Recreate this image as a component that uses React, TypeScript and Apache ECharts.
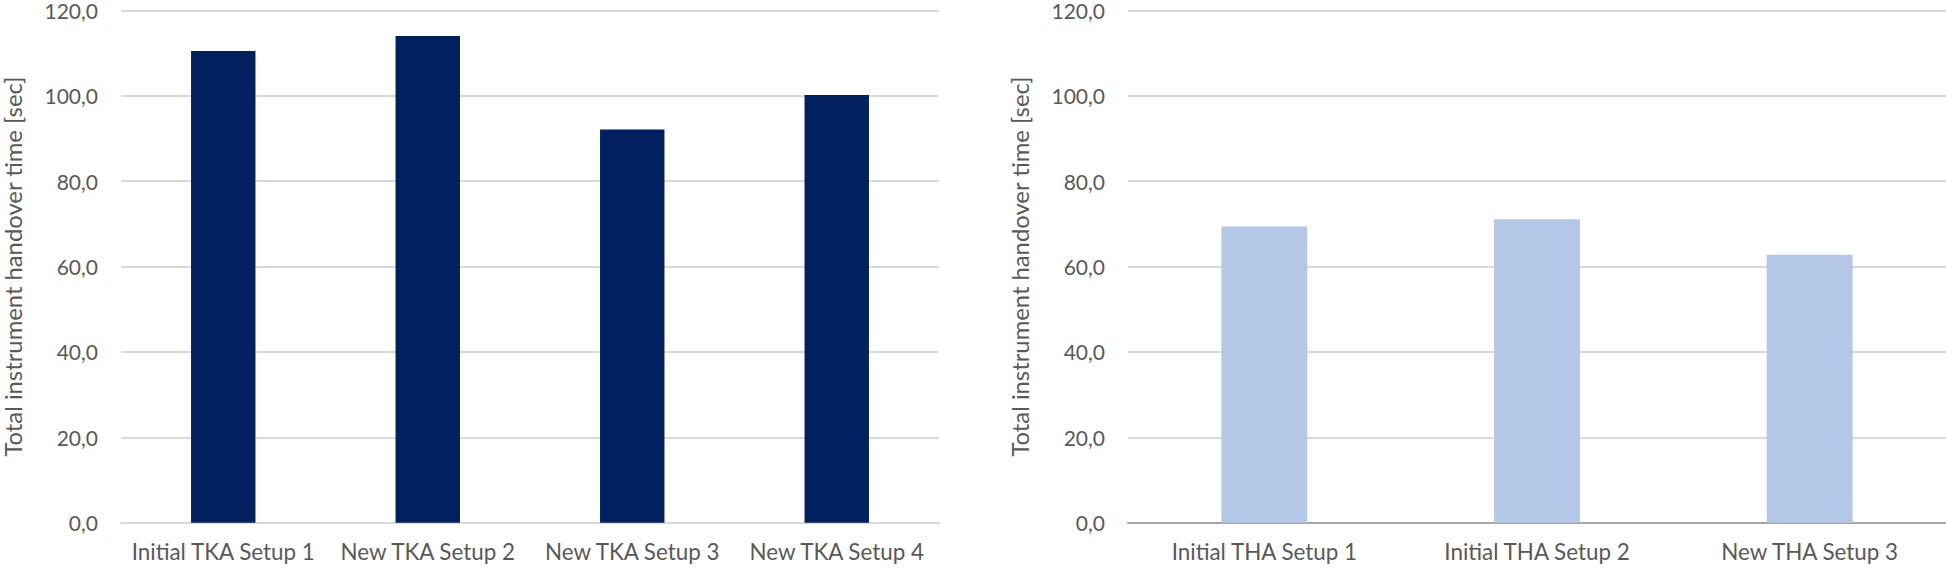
import React, { useEffect, useRef } from "react";
import * as echarts from "echarts";

const tkaCategories = ["Initial TKA Setup 1", "New TKA Setup 2", "New TKA Setup 3", "New TKA Setup 4"];
const tkaValues = [110.5, 114.0, 92.1, 100.2];
const thaCategories = ["Initial THA Setup 1", "Initial THA Setup 2", "New THA Setup 3"];
const thaValues = [69.4, 71.1, 62.8];
const yAxisName = "Total instrument handover time [sec]";
const yMin = 0;
const yMax = 120;
const yInterval = 20;

const FONT = "Lato";

export default function App() {
  const ref = useRef<HTMLDivElement>(null);
  useEffect(() => {
    if (!ref.current) return;
    const chart = echarts.init(ref.current, undefined, { renderer: "svg" });
    const fmt = (v: number) => v.toFixed(1).replace(".", ",");
    const makeY = (gridIndex: number) => ({
      type: "value" as const,
      gridIndex,
      min: yMin,
      max: yMax,
      interval: yInterval,
      name: yAxisName,
      nameLocation: "middle" as const,
      nameRotate: 90,
      nameGap: 96,
      nameTextStyle: { color: "#595959", fontFamily: FONT, fontSize: 23.8 },
      axisLine: { show: false },
      axisTick: { show: false },
      axisLabel: { color: "#595959", fontFamily: FONT, fontSize: 21, lineHeight: 18, margin: 23, formatter: fmt },
      splitLine: { lineStyle: { color: "#d9d9d9", width: 2 } },
    });
    const makeX = (gridIndex: number, data: string[], lineColor: string) => ({
      type: "category" as const,
      gridIndex,
      data,
      axisLine: { lineStyle: { color: lineColor, width: 2 } },
      axisTick: { show: false },
      axisLabel: { color: "#595959", fontFamily: FONT, fontSize: 22.4, margin: 18, interval: 0 },
    });
    chart.setOption({
      animation: false,
      backgroundColor: "#ffffff",
      grid: [
        { left: 121, width: 818, top: 9, bottom: 45.3 },
        { left: 1128, width: 818, top: 9, bottom: 45.3 },
      ],
      xAxis: [makeX(0, tkaCategories, "#d9d9d9"), makeX(1, thaCategories, "#a6a6a6")],
      yAxis: [makeY(0), makeY(1)],
      series: [
        {
          type: "bar",
          xAxisIndex: 0,
          yAxisIndex: 0,
          data: tkaValues,
          barCategoryGap: "68.5%",
          itemStyle: { color: "#002060" },
        },
        {
          type: "bar",
          xAxisIndex: 1,
          yAxisIndex: 1,
          data: thaValues,
          barCategoryGap: "68.5%",
          itemStyle: { color: "#b4c7e7" },
        },
      ],
    });
    return () => chart.dispose();
  }, []);
  return (
    <div
      ref={ref}
      style={{ position: "fixed", left: 0, top: 0, width: 1946, height: 568 }}
    />
  );
}
